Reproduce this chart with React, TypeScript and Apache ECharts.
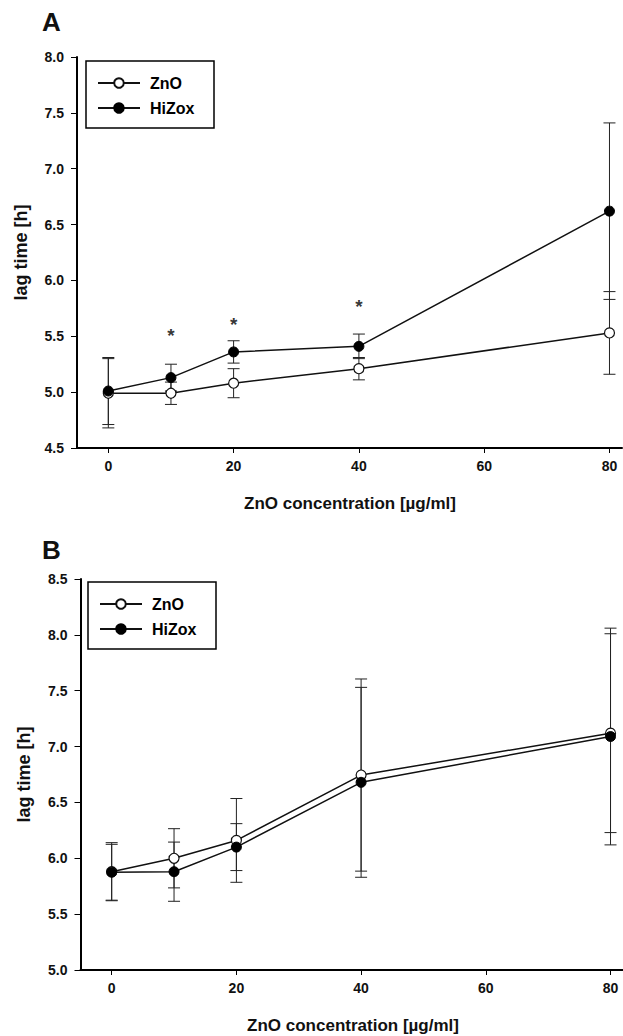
import React, { useEffect, useRef } from "react";
import * as echarts from "echarts";

const concentrations = [0, 10, 20, 40, 80];
const xTickValues = [0, 20, 40, 60, 80];

// Panel A
const aZnOMean = [4.99, 4.99, 5.08, 5.21, 5.53];
const aZnOErr = [0.31, 0.1, 0.13, 0.1, 0.37];
const aHiZoxMean = [5.01, 5.13, 5.36, 5.41, 6.62];
const aHiZoxErr = [0.3, 0.12, 0.1, 0.11, 0.79];
const aStarX = [10, 20, 40];
const aStarY = [5.53, 5.63, 5.79];

// Panel B
const bZnOMean = [5.88, 6.0, 6.16, 6.745, 7.12];
const bZnOErr = [0.26, 0.265, 0.375, 0.86, 0.89];
const bHiZoxMean = [5.875, 5.88, 6.1, 6.68, 7.09];
const bHiZoxErr = [0.25, 0.265, 0.21, 0.85, 0.97];

const seriesNames = ["ZnO", "HiZox"];
const xTitle = "ZnO concentration [µg/ml]";
const yTitle = "lag time [h]";

const FONT = "'Liberation Sans', Arial, Helvetica, sans-serif";

const pairs = (means: number[]) => concentrations.map((x, i) => [x, means[i]]);
const bars = (means: number[], errs: number[]) =>
  concentrations.map((x, i) => [x, means[i] - errs[i], means[i] + errs[i]]);

const errorRender = (params: any, api: any) => {
  const x = api.value(0);
  const lo = api.coord([x, api.value(1)]);
  const hi = api.coord([x, api.value(2)]);
  const hw = 6;
  const st = { stroke: "#222", lineWidth: 1 };
  return {
    type: "group",
    children: [
      { type: "line", shape: { x1: lo[0], y1: lo[1], x2: hi[0], y2: hi[1] }, style: st },
      { type: "line", shape: { x1: lo[0] - hw, y1: lo[1], x2: lo[0] + hw, y2: lo[1] }, style: st },
      { type: "line", shape: { x1: hi[0] - hw, y1: hi[1], x2: hi[0] + hw, y2: hi[1] }, style: st },
    ],
  };
};

const xAxisFor = (gridIndex: number) => ({
  type: "value",
  gridIndex,
  min: -5,
  max: 82,
  axisLine: { show: true, onZero: false, lineStyle: { color: "#000", width: 2 } },
  axisTick: { show: true, length: 5, customValues: xTickValues, lineStyle: { color: "#000", width: 1 } },
  axisLabel: {
    customValues: xTickValues,
    margin: 11,
    fontSize: 14,
    fontWeight: "bold",
    fontFamily: FONT,
    color: "#111",
  },
  splitLine: { show: false },
});

const yAxisFor = (gridIndex: number, min: number, max: number) => ({
  type: "value",
  gridIndex,
  min,
  max,
  interval: 0.5,
  axisLine: { show: true, onZero: false, lineStyle: { color: "#000", width: 2 } },
  axisTick: { show: true, length: 6, lineStyle: { color: "#000", width: 1 } },
  axisLabel: {
    margin: 13,
    fontSize: 14,
    fontWeight: "bold",
    fontFamily: FONT,
    color: "#111",
    formatter: (v: number) => v.toFixed(1),
  },
  splitLine: { show: false },
});

const lineSeries = (name: string, means: number[], idx: number, open: boolean) => ({
  name,
  type: "line",
  xAxisIndex: idx,
  yAxisIndex: idx,
  data: pairs(means),
  symbol: "circle",
  symbolSize: 10,
  z: 5,
  lineStyle: { color: "#111", width: 1.5 },
  itemStyle: open
    ? { color: "#fff", borderColor: "#111", borderWidth: 1.2 }
    : { color: "#000", borderColor: "#000", borderWidth: 1 },
  emphasis: { disabled: true },
});

const errSeries = (name: string, means: number[], errs: number[], idx: number) => ({
  name,
  type: "custom",
  xAxisIndex: idx,
  yAxisIndex: idx,
  data: bars(means, errs),
  encode: { x: 0, y: [1, 2] },
  renderItem: errorRender,
  z: 1,
  silent: true,
});

const legendFor = (left: number, top: number) => ({
  left,
  top,
  orient: "vertical",
  data: seriesNames,
  selectedMode: false,
  borderColor: "#000",
  borderWidth: 1.5,
  padding: [12, 14, 10, 11],
  itemWidth: 42,
  itemHeight: 12,
  itemGap: 5,
  textStyle: {
    fontSize: 16,
    fontWeight: "bold",
    fontFamily: FONT,
    color: "#000",
    lineHeight: 20,
    padding: [0, 0, 0, 5],
    width: 50,
  },
});

const titleText = (text: string, x: number, y: number, size: number, rotate = 0, align = "center") => ({
  type: "text",
  x,
  y,
  rotation: rotate,
  style: {
    text,
    fontSize: size,
    fontWeight: "bold",
    fontFamily: FONT,
    fill: "#111",
    align,
    verticalAlign: "middle",
  },
});

export default function App() {
  const ref = useRef<HTMLDivElement>(null);
  useEffect(() => {
    if (!ref.current) return;
    const chart = echarts.init(ref.current, null, { renderer: "svg" });
    chart.setOption({
      animation: false,
      backgroundColor: "#fff",
      grid: [
        { left: 77, top: 57, width: 545, height: 391 },
        { left: 80.5, top: 579, width: 545, height: 391 },
      ],
      xAxis: [xAxisFor(0), xAxisFor(1)],
      yAxis: [yAxisFor(0, 4.5, 8.0), yAxisFor(1, 5.0, 8.5)],
      legend: [legendFor(86, 61), legendFor(88, 582)],
      graphic: [
        titleText("A", 42, 22, 26, 0, "left"),
        titleText("B", 42, 549.5, 26, 0, "left"),
        titleText(yTitle, 21, 252.5, 18, Math.PI / 2),
        titleText(yTitle, 24, 774.5, 18, Math.PI / 2),
        titleText(xTitle, 350, 503, 17),
        titleText(xTitle, 353, 1025, 17),
      ],
      series: [
        errSeries("ZnO error A", aZnOMean, aZnOErr, 0),
        errSeries("HiZox error A", aHiZoxMean, aHiZoxErr, 0),
        lineSeries("ZnO", aZnOMean, 0, true),
        lineSeries("HiZox", aHiZoxMean, 0, false),
        {
          name: "significance",
          type: "scatter",
          xAxisIndex: 0,
          yAxisIndex: 0,
          data: aStarX.map((x, i) => [x, aStarY[i]]),
          symbolSize: 1,
          itemStyle: { color: "rgba(0,0,0,0)" },
          silent: true,
          label: {
            show: true,
            formatter: "*",
            position: "inside",
            fontSize: 19,
            fontWeight: "bold",
            fontFamily: FONT,
            color: "#000",
            offset: [0, 3],
          },
        },
        errSeries("ZnO error B", bZnOMean, bZnOErr, 1),
        errSeries("HiZox error B", bHiZoxMean, bHiZoxErr, 1),
        lineSeries("ZnO", bZnOMean, 1, true),
        lineSeries("HiZox", bHiZoxMean, 1, false),
      ],
    });
    return () => chart.dispose();
  }, []);
  return (
    <div
      ref={ref}
      style={{ position: "absolute", left: 0, top: 0, width: 623, height: 1036, background: "#fff" }}
    />
  );
}
